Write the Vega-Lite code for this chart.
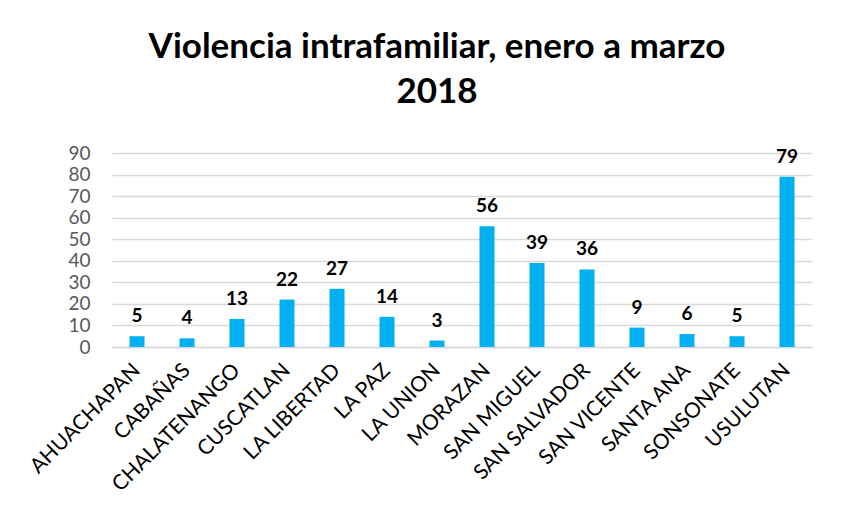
{
  "$schema": "https://vega.github.io/schema/vega-lite/v6.json",
  "width": 700,
  "height": 194,
  "autosize": "none",
  "padding": {"left": 112, "top": 153, "right": 33, "bottom": 165},
  "background": "white",
  "title": {
    "text": ["Violencia intrafamiliar, enero a marzo", "2018"],
    "font": "Lato",
    "fontSize": 35,
    "fontWeight": "bold",
    "color": "#000000",
    "anchor": "middle",
    "dx": -25,
    "offset": 34,
    "lineHeight": 45
  },
  "data": {
    "values": [
      {"departamento": "AHUACHAPAN", "casos": 5},
      {"departamento": "CABAÑAS", "casos": 4},
      {"departamento": "CHALATENANGO", "casos": 13},
      {"departamento": "CUSCATLAN", "casos": 22},
      {"departamento": "LA LIBERTAD", "casos": 27},
      {"departamento": "LA PAZ", "casos": 14},
      {"departamento": "LA UNION", "casos": 3},
      {"departamento": "MORAZAN", "casos": 56},
      {"departamento": "SAN MIGUEL", "casos": 39},
      {"departamento": "SAN SALVADOR", "casos": 36},
      {"departamento": "SAN VICENTE", "casos": 9},
      {"departamento": "SANTA ANA", "casos": 6},
      {"departamento": "SONSONATE", "casos": 5},
      {"departamento": "USULUTAN", "casos": 79}
    ]
  },
  "encoding": {
    "x": {
      "field": "departamento",
      "type": "nominal",
      "sort": null,
      "scale": {"paddingInner": 0.7, "paddingOuter": 0.35},
      "axis": {
        "title": null,
        "labelAngle": -45,
        "labelAlign": "right",
        "labelBaseline": "middle",
        "labelFont": "Lato",
        "labelFontSize": 21,
        "labelColor": "#000000",
        "labelPadding": 20,
        "labelOverlap": false,
        "ticks": false,
        "domainColor": "#D9D9D9",
        "domainWidth": 1.5,
        "grid": false
      }
    },
    "y": {
      "field": "casos",
      "type": "quantitative",
      "scale": {"domain": [0, 90]},
      "axis": {
        "title": null,
        "values": [0, 10, 20, 30, 40, 50, 60, 70, 80, 90],
        "labelFont": "Lato",
        "labelFontSize": 19,
        "labelColor": "#595959",
        "labelPadding": 22,
        "ticks": false,
        "domain": false,
        "gridColor": "#D9D9D9",
        "gridWidth": 1.5
      }
    }
  },
  "layer": [
    {"mark": {"type": "bar", "color": "#00B0F0"}},
    {
      "mark": {
        "type": "text",
        "font": "Lato",
        "fontSize": 19,
        "fontWeight": "bold",
        "color": "#000000",
        "baseline": "bottom",
        "dy": -10
      },
      "encoding": {"text": {"field": "casos", "type": "quantitative"}}
    }
  ],
  "config": {"view": {"stroke": null}}
}
